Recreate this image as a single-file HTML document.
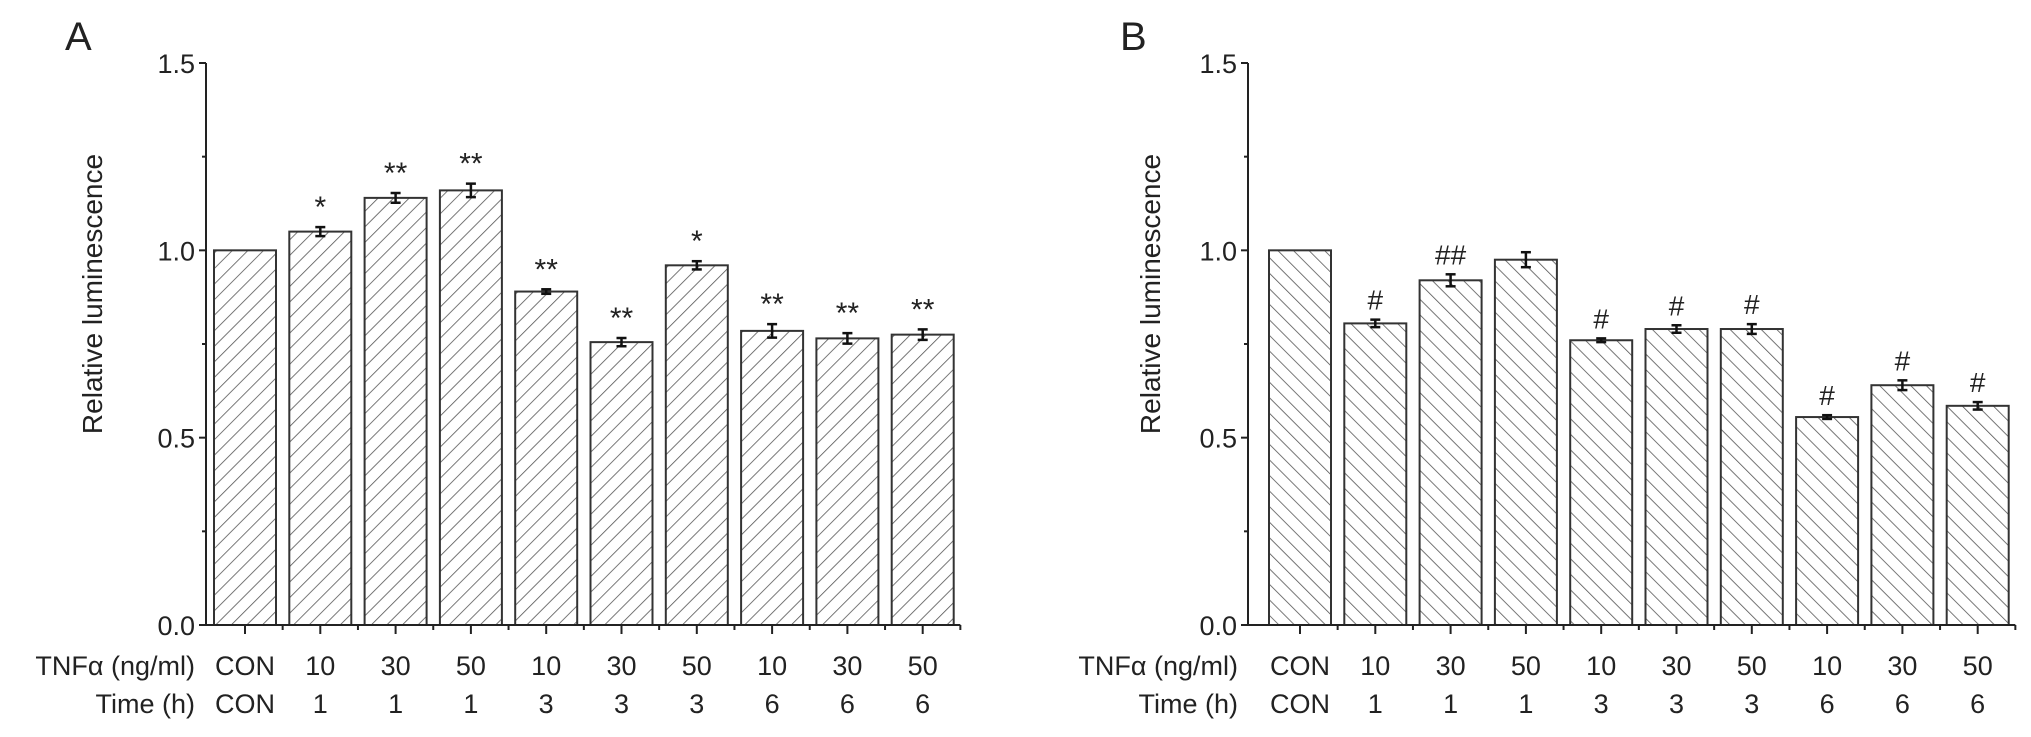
<!DOCTYPE html>
<html><head><meta charset="utf-8"><style>
body{margin:0;background:#fff;}
svg text{font-family:"Liberation Sans",Arial,sans-serif;fill:#222;}
</style></head><body>
<svg id="fig" width="2031" height="732" viewBox="0 0 2031 732" xmlns="http://www.w3.org/2000/svg">
<defs>
<pattern id="hatchA" patternUnits="userSpaceOnUse" width="11" height="11" patternTransform="rotate(45)"><line x1="0" y1="0" x2="0" y2="11" stroke="#555" stroke-width="1.6"/></pattern>
<pattern id="hatchB" patternUnits="userSpaceOnUse" width="11" height="11" patternTransform="rotate(-45)"><line x1="0" y1="0" x2="0" y2="11" stroke="#555" stroke-width="1.6"/></pattern>
</defs>
</svg>
<script>
const categoriesTNF = ["CON","10","30","50","10","30","50","10","30","50"];
const categoriesTime = ["CON","1","1","1","3","3","3","6","6","6"];
const valuesA = [1.0,1.05,1.14,1.16,0.89,0.755,0.96,0.785,0.765,0.775];
const errorsA = [0,0.012,0.013,0.018,0.006,0.011,0.011,0.018,0.014,0.014];
const marksA = ["","*","**","**","**","**","*","**","**","**"];
const valuesB = [1.0,0.805,0.92,0.975,0.76,0.79,0.79,0.555,0.64,0.585];
const errorsB = [0,0.01,0.016,0.02,0.005,0.01,0.013,0.005,0.013,0.01];
const marksB = ["","#","##","","#","#","#","#","#","#"];
const yTicks = [0,0.5,1.0,1.5];
const yTickLabels = ["0.0","0.5","1.0","1.5"];

const svg=document.getElementById('fig');
const NS='http://www.w3.org/2000/svg';
function mk(tag,attrs,parent){const e=document.createElementNS(NS,tag);for(const k in attrs)e.setAttribute(k,attrs[k]);(parent||svg).appendChild(e);return e;}

function panel(opt){
  const g=mk('g',{});
  
  
  const y0=625, y15=63;
  const yS=v=>y0-(v/1.5)*(y0-y15);
  const step=75.3;
  const xS=i=>opt.firstCenter+i*step;
  const bw=62;
  const L=mk('text',{x:opt.letterX,y:50,'font-size':40},g);L.textContent=opt.letter;
  
  
  const t=mk('text',{x:0,y:0,'font-size':28,'text-anchor':'middle',transform:`translate(${opt.titleX},294) rotate(-90)`},g);t.textContent='Relative luminescence';
  
  
  for(let i=0;i<opt.values.length;i++){
    const v=opt.values[i], x=xS(i);
    const r=mk('rect',{x:x-bw/2,y:yS(v),width:bw,height:y0-yS(v),fill:`url(#${opt.hatch})`,stroke:'#333','stroke-width':2},g);
    
    
    const e=opt.errors[i];
    if(e>0){
      const eg=mk('g',{stroke:'#111','stroke-width':2.5},g);
      
      
      mk('line',{x1:x,x2:x,y1:yS(v+e),y2:yS(v-e)},eg);
      mk('line',{x1:x-5,x2:x+5,y1:yS(v+e),y2:yS(v+e)},eg);
      mk('line',{x1:x-5,x2:x+5,y1:yS(v-e),y2:yS(v-e)},eg);
    }
    if(opt.marks[i]){
      const m=mk('text',{x:x,y:yS(v+e)-10,'font-size':opt.markSize,'text-anchor':'middle'},g);m.textContent=opt.marks[i];
      
      
    }
    const a=mk('text',{x:x,y:675,'font-size':27,'text-anchor':'middle'},g);a.textContent=categoriesTNF[i];
    
    
    const b=mk('text',{x:x,y:713,'font-size':27,'text-anchor':'middle'},g);b.textContent=categoriesTime[i];
    
    
    mk('line',{x1:x,x2:x,y1:y0,y2:y0+9,stroke:'#222','stroke-width':2},g);
    mk('line',{x1:x+step/2,x2:x+step/2,y1:y0,y2:y0+5,stroke:'#222','stroke-width':2},g);
  }
  const ax=opt.axisX, xEnd=xS(opt.values.length-1)+step/2;
  mk('line',{x1:ax,x2:ax,y1:y15,y2:y0,stroke:'#222','stroke-width':2},g);
  mk('line',{x1:ax-5,x2:xEnd,y1:y0,y2:y0,stroke:'#222','stroke-width':2},g);
  for(let k=0;k<yTicks.length;k++){
    const yy=yS(yTicks[k]);
    mk('line',{x1:ax-7,x2:ax,y1:yy,y2:yy,stroke:'#222','stroke-width':2},g);
    const tl=mk('text',{x:ax-11,y:yy+10,'font-size':27,'text-anchor':'end'},g);tl.textContent=yTickLabels[k];
    
    
    if(k<yTicks.length-1){const ym=yS(yTicks[k]+0.25);mk('line',{x1:ax-4,x2:ax,y1:ym,y2:ym,stroke:'#222','stroke-width':2},g);}
  }
  const r1=mk('text',{x:opt.rowLabelX,y:675,'font-size':27,'text-anchor':'end'},g);r1.textContent='TNFα (ng/ml)';
  
  
  const r2=mk('text',{x:opt.rowLabelX,y:713,'font-size':27,'text-anchor':'end'},g);r2.textContent='Time (h)';
  
  
}
panel({name:'panel-a',letter:'A',letterX:65,titleX:102,axisX:206,firstCenter:245,values:valuesA,errors:errorsA,marks:marksA,markSize:30,hatch:'hatchA',rowLabelX:195});
panel({name:'panel-b',letter:'B',letterX:1120,titleX:1160,axisX:1248,firstCenter:1300,values:valuesB,errors:errorsB,marks:marksB,markSize:28,hatch:'hatchB',rowLabelX:1238});
</script>
</body></html>
